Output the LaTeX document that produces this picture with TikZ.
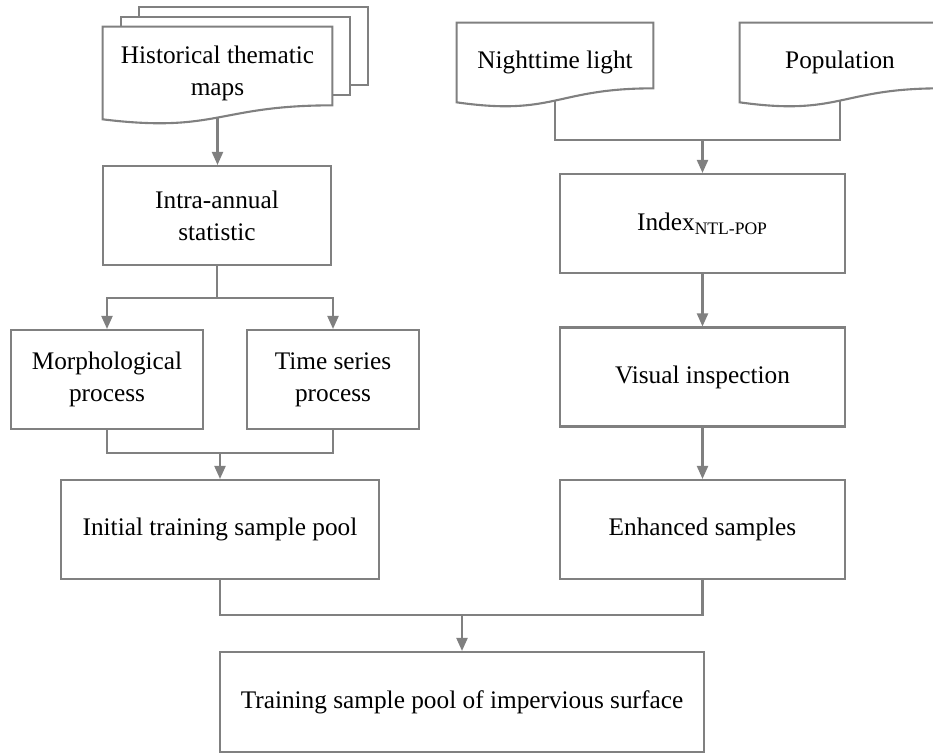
\documentclass[tikz,border=0pt]{standalone}
\usepackage{fontspec}
\setmainfont{Liberation Serif}
\usepackage{tikz}
\usetikzlibrary{arrows.meta, calc, positioning, backgrounds}
\definecolor{linegray}{RGB}{128,128,128}

\begin{document}
\begin{tikzpicture}[
  x=0.02cm, y=-0.02cm,
  box/.style={draw=linegray, line width=1.2pt, rectangle, inner sep=0pt,
              minimum height=1.98cm, align=center,
              font=\fontsize{14.4}{18.2}\selectfont},
  doc/.style={rectangle, inner sep=0pt, align=center,
              font=\fontsize{14.4}{18.2}\selectfont},
  docline/.style={draw=linegray, line width=1.2pt, fill=white},
  ln/.style={draw=linegray, line width=1.2pt},
  arr/.style={draw=linegray, line width=1.2pt,
              -{Triangle[length=0.26cm, width=0.22cm]}},
]
  \useasboundingbox (0,0) rectangle (933,753);

  \node[doc, minimum width=4.58cm, minimum height=1.84cm] (hist) at (217.5,73) {Historical thematic\\maps};
  \node[doc, minimum width=3.92cm, minimum height=1.58cm] (ntl) at (555,62.5) {\raisebox{0.08cm}{Nighttime light}};
  \node[doc, minimum width=4cm, minimum height=1.58cm] (pop) at (840,62.5) {\raisebox{0.08cm}{Population}};

  \node[box, minimum width=4.56cm] (intra) at (217,215.5) {Intra-annual\\statistic};
  \node[box, minimum width=3.84cm] (morph) at (107,379.5) {Morphological\\process};
  \node[box, minimum width=3.44cm] (ts) at (333,379.5) {Time series\\process};
  \node[box, minimum width=6.36cm] (init) at (220,529.5) {Initial training sample pool};
  \node[box, minimum width=5.7cm] (idx) at (702.5,223.5) {Index\textsubscript{NTL-POP}};
  \node[box, minimum width=5.7cm] (vis) at (702.5,377) {Visual inspection};
  \node[box, minimum width=5.7cm] (enh) at (702.5,529.5) {Enhanced samples};
  \node[box, minimum width=9.68cm, minimum height=2cm] (final) at (462,702) {Training sample pool of impervious surface};

  \begin{scope}[on background layer]
    \foreach \s in {2,1}
      \draw[docline] ([shift={(18*\s,-10*\s)}]hist.north west) rectangle ([shift={(18*\s,-10*\s-14)}]hist.south east);
    \foreach \n in {hist,ntl,pop}
      \draw[docline] (\n.north west) -- (\n.north east) -- ($(\n.south east)+(0,-14)$)
        .. controls ($(\n.south)+(0,-14)$) and ($(\n.south)+(0,14)$) .. (\n.south west)
        coordinate[pos=0.5] (\n-w) -- cycle;
  \end{scope}

  \coordinate (split) at ($(intra.south)+(0,32)$);
  \coordinate (join1) at ($(init.north)+(0,-26)$);
  \coordinate (join2) at ($(idx.north)+(0,-33)$);
  \coordinate (join3) at ($(final.north)+(0,-36)$);

  \draw[arr] (hist-w) -- (hist-w |- intra.north);
  \draw[ln] (intra.south) -- (split);
  \draw[arr] (split) -| (morph.north);
  \draw[arr] (split) -| (ts.north);
  \draw[ln] (morph.south) |- (join1) -| (ts.south);
  \draw[arr] (join1) -- (init.north);

  \draw[ln] (ntl-w) |- (join2) -| (pop-w);
  \draw[arr] (join2) -- (idx.north);
  \draw[arr] (idx) -- (vis);
  \draw[arr] (vis) -- (enh);

  \draw[ln] (init.south) |- (join3) -| (enh.south);
  \draw[arr] (join3) -- (final.north);
\end{tikzpicture}
\end{document}
